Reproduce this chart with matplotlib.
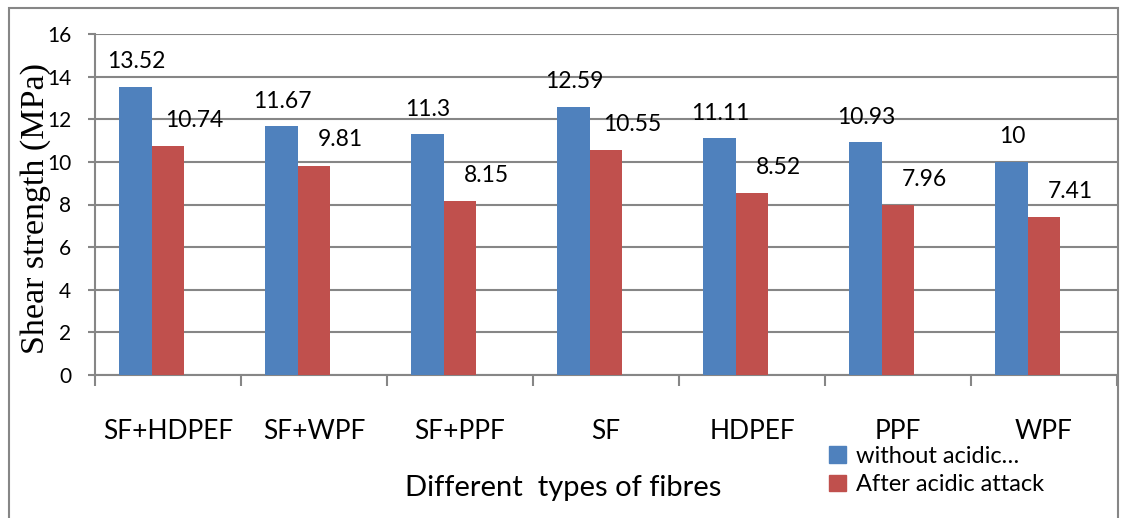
import numpy as np
from matplotlib import pyplot as plt
from matplotlib.patches import Rectangle, Patch

categories = ["SF+HDPEF", "SF+WPF", "SF+PPF", "SF", "HDPEF", "PPF", "WPF"]
without_acid = [13.52, 11.67, 11.3, 12.59, 11.11, 10.93, 10]
after_acid = [10.74, 9.81, 8.15, 10.55, 8.52, 7.96, 7.41]
labels_without = ["13.52", "11.67", "11.3", "12.59", "11.11", "10.93", "10"]
labels_after = ["10.74", "9.81", "8.15", "10.55", "8.52", "7.96", "7.41"]
series_names = ["without acidic\u2026", "After acidic attack"]

blue = "#4F81BD"
red = "#C0504D"
grid_c = "#868686"

W, H = 1121, 518
fig = plt.figure(figsize=(W / 100, H / 100), dpi=100)
ax = fig.add_axes([95 / W, 1 - 375 / H, (1117 - 95) / W, (375 - 34) / H])

x = np.arange(len(categories))
bw = 0.226
ax.bar(x + 0.5 - bw, without_acid, bw, color=blue, zorder=3)
ax.bar(x + 0.5, after_acid, bw, color=red, zorder=3)

for i in range(len(categories)):
    ax.annotate(labels_without[i], (x[i] + 0.5 - bw, without_acid[i]),
                xytext=(1, 25), textcoords="offset pixels",
                ha="center", va="center", fontsize=16.5, family="Lato")
    ax.annotate(labels_after[i], (x[i] + 0.5, after_acid[i]),
                xytext=(26, 26), textcoords="offset pixels",
                ha="center", va="center", fontsize=16.5, family="Lato")

ax.set_xlim(0, 7)
ax.set_ylim(0, 16)
ax.set_yticks(range(0, 17, 2))
ax.set_xticks(range(0, 8))
ax.set_xticklabels([])
ax.set_xticks(x + 0.5, minor=True)
ax.set_xticklabels(categories, minor=True, fontsize=19, family="Lato")
ax.tick_params(axis="x", which="major", length=8, color=grid_c, width=1.5, direction="out")
ax.tick_params(axis="x", which="minor", length=0, pad=32)
ax.tick_params(axis="y", length=5, color=grid_c, width=1.5, pad=12, labelsize=15)
for t in ax.get_yticklabels():
    t.set_family("Lato")

ax.grid(axis="y", color=grid_c, linewidth=1.5, zorder=0)
for s in ["top", "right"]:
    ax.spines[s].set_visible(False)
ax.spines["left"].set_color(grid_c)
ax.spines["left"].set_linewidth(1.5)
ax.spines["bottom"].set_color(grid_c)
ax.spines["bottom"].set_linewidth(1.5)

fig.text(36 / W, 1 - 208 / H, "Shear strength (MPa)", rotation=90,
         ha="center", va="center", fontsize=24.5, family="Liberation Serif")
fig.text(563 / W, 1 - 488 / H, "Different  types of fibres",
         ha="center", va="center", fontsize=21, family="Lato")

handles = [Patch(color=blue), Patch(color=red)]
fig.legend(handles, series_names, loc="upper left",
           bbox_to_anchor=(829 / W, 1 - 446 / H), frameon=False,
           prop={"family": "Lato", "size": 17}, handlelength=0.7,
           handleheight=0.7, handletextpad=0.45, labelspacing=0.3,
           borderaxespad=0, borderpad=0)

fig.patches.append(Rectangle((9 / W, -0.1), (1118 - 9) / W, 1.1 - 8 / H,
                             transform=fig.transFigure, fill=False,
                             edgecolor=grid_c, linewidth=1.5))

plt.savefig("out.png", dpi=100)
